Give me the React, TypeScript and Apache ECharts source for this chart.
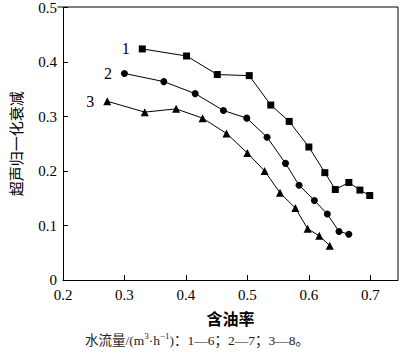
import React, { useEffect, useRef } from "react";
import * as echarts from "echarts";

const oilRate1 = [0.329, 0.401, 0.451, 0.503, 0.538, 0.568, 0.6, 0.626, 0.643, 0.665, 0.683, 0.699];
const atten1 = [0.424, 0.411, 0.377, 0.375, 0.321, 0.291, 0.244, 0.197, 0.166, 0.179, 0.165, 0.155];
const oilRate2 = [0.3, 0.364, 0.415, 0.461, 0.499, 0.532, 0.562, 0.584, 0.609, 0.63, 0.649, 0.665];
const atten2 = [0.379, 0.364, 0.342, 0.311, 0.297, 0.262, 0.214, 0.174, 0.146, 0.121, 0.089, 0.084];
const oilRate3 = [0.272, 0.333, 0.384, 0.427, 0.466, 0.5, 0.528, 0.553, 0.578, 0.598, 0.617, 0.634];
const atten3 = [0.328, 0.308, 0.314, 0.297, 0.269, 0.233, 0.2, 0.16, 0.132, 0.094, 0.081, 0.063];
const seriesNames = ["1", "2", "3"];
const symbols = ["rect", "circle", "triangle"];

const SERIF = "'Liberation Serif', 'DejaVu Serif', serif";
const CJK = "'Noto Sans CJK SC', sans-serif";

function build(xs: number[], ys: number[], name: string) {
  return xs.map((x, i) =>
    i === 0
      ? {
          value: [x, ys[i]],
          label: {
            show: true,
            formatter: name,
            position: "left",
            distance: 9,
            color: "#000",
            fontFamily: SERIF,
            fontSize: 16,
          },
        }
      : { value: [x, ys[i]] }
  );
}

export default function App() {
  const ref = useRef<HTMLDivElement>(null);
  useEffect(() => {
    document.body.style.margin = "0";
    const chart = echarts.init(ref.current!, null, { renderer: "svg" });
    const all = [
      [oilRate1, atten1],
      [oilRate2, atten2],
      [oilRate3, atten3],
    ];
    chart.setOption({
      animation: false,
      backgroundColor: "#fff",
      grid: { left: 57.5, top: 7, right: 2, bottom: 74 },
      xAxis: {
        type: "value",
        min: 0.2,
        max: 0.745,
        interval: 0.1,
        name: "含油率",
        nameLocation: "middle",
        nameGap: 30,
        nameTextStyle: { fontFamily: CJK, fontSize: 16, fontWeight: "bold", color: "#000" },
        axisLine: { show: true, lineStyle: { color: "#000", width: 1 } },
        axisTick: { show: true, inside: true, length: 5, lineStyle: { color: "#000" } },
        axisLabel: {
          color: "#000",
          fontFamily: SERIF,
          fontSize: 15,
          margin: 7,
          showMaxLabel: false,
          formatter: (v: number) => v.toFixed(1),
        },
        splitLine: { show: false },
      },
      yAxis: {
        type: "value",
        min: 0,
        max: 0.5,
        interval: 0.1,
        name: "超声归一化衰减",
        nameLocation: "middle",
        nameGap: 40,
        nameTextStyle: { fontFamily: CJK, fontSize: 15, color: "#000" },
        axisLine: { show: true, lineStyle: { color: "#000", width: 1 } },
        axisTick: { show: true, inside: true, length: 5, lineStyle: { color: "#000" } },
        axisLabel: {
          color: "#000",
          fontFamily: SERIF,
          fontSize: 15,
          margin: 6,
          formatter: (v: number) => (v === 0 ? "0" : v.toFixed(1)),
        },
        splitLine: { show: false },
      },
      graphic: [
        {
          type: "line",
          shape: { x1: 57.5, y1: 7, x2: 398, y2: 7 },
          style: { stroke: "#000", lineWidth: 1 },
        },
        {
          type: "line",
          shape: { x1: 398, y1: 7, x2: 398, y2: 280 },
          style: { stroke: "#000", lineWidth: 1 },
        },
        {
          type: "text",
          left: 85,
          top: 331,
          style: {
            text: "{c|水流量/(m}{s|3}{c|·h}{s|−1}{c|)：1—6；2—7；3—8。}",
            rich: {
              c: { fontFamily: "'Liberation Serif', " + CJK, fontSize: 13.5, fill: "#222", verticalAlign: "bottom" },
              s: { fontFamily: SERIF, fontSize: 9, fill: "#222", verticalAlign: "top", padding: [0, 0, 7, 0] },
            },
          },
        },
      ],
      series: all.map(([xs, ys], i) => ({
        type: "line",
        name: seriesNames[i],
        data: build(xs, ys, seriesNames[i]),
        symbol: symbols[i],
        symbolSize: i === 2 ? 8 : 7,
        showAllSymbol: true,
        lineStyle: { color: "#000", width: 1 },
        itemStyle: { color: "#000" },
      })),
    });
    return () => chart.dispose();
  }, []);
  return <div ref={ref} style={{ width: 400, height: 354 }} />;
}
